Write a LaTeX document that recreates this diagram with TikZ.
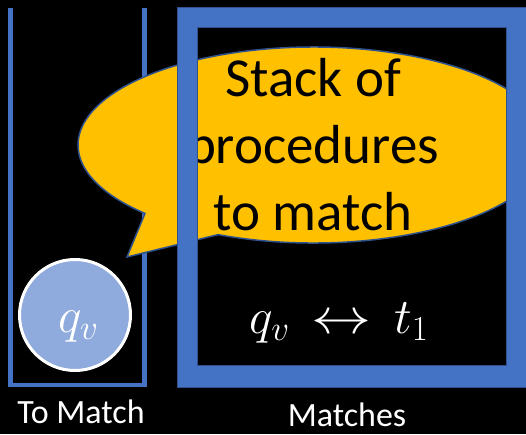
\RequirePackage{fix-cm}
\documentclass[tikz,border=0pt]{standalone}
\usepackage{fontspec}
\usepackage{graphicx}
\newfontfamily\carlito{Carlito}
\definecolor{accblue}{HTML}{4472C4}
\definecolor{darkblue}{HTML}{2F528F}
\definecolor{calloutyellow}{HTML}{FFC000}
\definecolor{circlefill}{HTML}{8FAADC}
\tikzset{
  bubbletext/.style={font=\carlito\fontsize{55}{66}\selectfont, text=black, anchor=base, inner sep=0pt},
  labeltext/.style={font=\carlito\fontsize{34}{40}\selectfont, text=white, anchor=base, inner sep=0pt},
  mathtext/.style={font=\fontsize{50}{58}\selectfont, text=white, anchor=base, inner sep=0pt},
  container/.style={draw=accblue, line width=4.5pt, line join=miter},
  callout/.style={fill=calloutyellow, draw=darkblue, line width=1.5pt, line join=miter},
  frame/.style={fill=accblue, draw=darkblue, line width=1pt, even odd rule},
}
\begin{document}
\begin{tikzpicture}[x=1pt,y=1pt]
\fill[black] (0,0) rectangle (526,434);
\useasboundingbox (0,0) rectangle (526,434);
\clip (0,0) rectangle (526,434);
% left container (open top)
\coordinate (ctl) at (10.3,426);
\coordinate (cbl) at (10.3,49);
\coordinate (cbr) at (144.3,49);
\coordinate (ctr) at (144.3,426);
\draw[container] (ctl) -- (cbl) -- (cbr) -- (ctr);
% circle
\node[circle, fill=circlefill, draw=white, line width=3pt, minimum size=111pt, inner sep=0pt] (qcircle) at (75,119) {};
\node[mathtext] (qlabel) at (78.5,102) {$q_v$};
% callout
\coordinate (ec) at (313.5,289);
\coordinate (tip) at (127,177);
\draw[callout] (218.1,199.4) arc[start angle=246.1, end angle=584.3, x radius=235.5, y radius=98] -- (tip) -- cycle;
\node[bubbletext] (s1) at (313,337) {Stack of};
\node[bubbletext] (s2) at (313,270.5) {procedures};
\node[bubbletext] (s3) at (313,204) {to match};
% matches frame
\path[frame] (177,47) rectangle (527,426) (197,69) rectangle (506,406);
\node[mathtext] (pair) at (339,101) {$q_v \mkern3mu\mathrel{\scalebox{1.2}[1]{$\leftrightarrow$}}\mkern3mu t_1$};
% labels
\node[labeltext] (tomatch) at (81,11) {To Match};
\node[labeltext] (matches) at (347,8) {Matches};
\end{tikzpicture}
\end{document}
